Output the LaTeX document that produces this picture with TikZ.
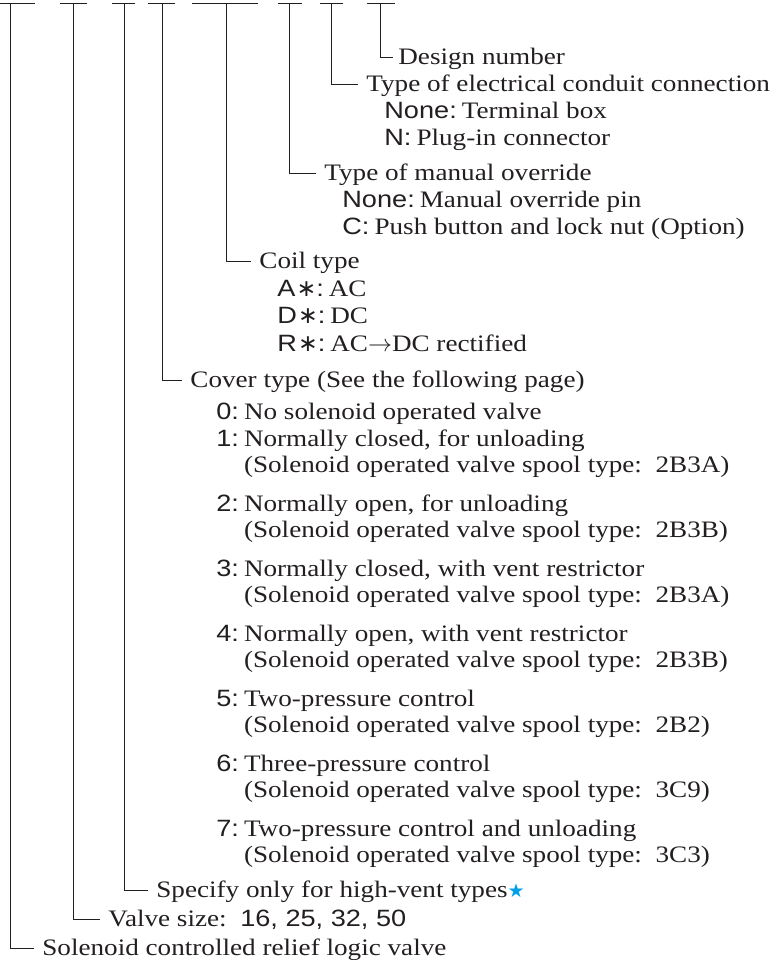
\documentclass[tikz,border=0pt]{standalone}
\usepackage{fontspec}
\setmainfont{Liberation Serif}[FakeStretch=1.15]
\setsansfont{Liberation Sans}[FakeStretch=1.15]
\newfontfamily\symfont{DejaVu Sans}
\usetikzlibrary{positioning}
\definecolor{inkdark}  {RGB}{ 35, 31, 32}
\definecolor{starblue} {RGB}{  0,160,233}
\newcommand{\lab}[1]{\textsf{#1}\kern2.5pt}
\newcommand{\anyv}{{\symfont\kern0.5pt∗}}

\begin{document}
\begin{tikzpicture}[
  x=0.5pt, y=-0.5pt,
  font=\fontsize{11.8}{13}\selectfont,
  text=inkdark,
  rule/.style={draw=inkdark, line width=0.5pt},
  head/.style={anchor=base west, inner xsep=4pt, inner ysep=0pt,
               text height=0.7em, text depth=0pt},
  item/.style={anchor=base west, inner sep=0pt}
]
\useasboundingbox (0,0) rectangle (771,960);

% =========================================================
% TOP ROW: one dash per code position, leader starts on it
% =========================================================
\foreach \xa/\xm/\xb [count=\i] in
    {0/10/35, 60/73/87, 112/124/135, 148/162/175,
     192/226/258, 278/289/302, 320/331/343, 367/380/395}
{
  \draw[rule] (\xa,3) -- (\xb,3);
  \coordinate (top\i) at (\xm,3);
}

% =========================================================
% HEADINGS (leader end = node west)
% =========================================================
\node[head, inner xsep=2.5pt] (design)   at (393,64)  {Design number};
\node[head]                   (conduit)  at (358,91)  {Type of electrical conduit connection};
\node[head]                   (override) at (316,180) {Type of manual override};
\node[head]                   (coil)     at (251,268) {Coil type};
\node[head]                   (cover)    at (182,387) {Cover type (See the following page)};
\node[head]                   (special)  at (148,897) {Specify only for high-vent types{\symfont\fontsize{9.5}{9.5}\selectfont\color{starblue}★}};
\node[head]                   (size)     at (100,926) {Valve size:\ \ \textsf{16, 25, 32, 50}};
\node[head]                   (model)    at (34,955)  {Solenoid controlled relief logic valve};

% leaders: drop from the dash, turn right into the heading
\draw[rule] (top8) |- (design.west);
\draw[rule] (top7) |- (conduit.west);
\draw[rule] (top6) |- (override.west);
\draw[rule] (top5) |- (coil.west);
\draw[rule] (top4) |- (cover.west);
\draw[rule] (top3) |- (special.west);
\draw[rule] (top2) |- (size.west);
\draw[rule] (top1) |- (model.west);

% =========================================================
% OPTIONS under each heading
% =========================================================
\node[item] (conN0) at (384,118) {\lab{None:}Terminal box};
\node[item] (conN)  at (384,145) {\lab{N:}Plug-in connector};

\node[item] (ovrN0) at (342,207) {\lab{None:}Manual override pin};
\node[item] (ovrC)  at (342,234) {\lab{C:}Push button and lock nut (Option)};

\node[item] (coilA) at (277,296) {\lab{A\anyv:}AC};
\node[item] (coilD) at (277,323) {\lab{D\anyv:}DC};
\node[item] (coilR) at (277,351) {\lab{R\anyv:}AC$\rightarrow$DC rectified};

% cover types, second line hangs under the description
\node[item] (cv0)  at (216,419) {\lab{0:}No solenoid operated valve};
\node[item] (cv1)  at (216,446) {\lab{1:}Normally closed, for unloading};
\node[item] (cv1x) at ([yshift=-13pt]cv1.base west) {\hphantom{\lab{1:}}(Solenoid operated valve spool type:\ \ 2B3A)};
\node[item] (cv2)  at (216,511) {\lab{2:}Normally open, for unloading};
\node[item] (cv2x) at ([yshift=-13pt]cv2.base west) {\hphantom{\lab{2:}}(Solenoid operated valve spool type:\ \ 2B3B)};
\node[item] (cv3)  at (216,576) {\lab{3:}Normally closed, with vent restrictor};
\node[item] (cv3x) at ([yshift=-13pt]cv3.base west) {\hphantom{\lab{3:}}(Solenoid operated valve spool type:\ \ 2B3A)};
\node[item] (cv4)  at (216,641) {\lab{4:}Normally open, with vent restrictor};
\node[item] (cv4x) at ([yshift=-13pt]cv4.base west) {\hphantom{\lab{4:}}(Solenoid operated valve spool type:\ \ 2B3B)};
\node[item] (cv5)  at (216,706) {\lab{5:}Two-pressure control};
\node[item] (cv5x) at ([yshift=-13pt]cv5.base west) {\hphantom{\lab{5:}}(Solenoid operated valve spool type:\ \ 2B2)};
\node[item] (cv6)  at (216,771) {\lab{6:}Three-pressure control};
\node[item] (cv6x) at ([yshift=-13pt]cv6.base west) {\hphantom{\lab{6:}}(Solenoid operated valve spool type:\ \ 3C9)};
\node[item] (cv7)  at (216,836) {\lab{7:}Two-pressure control and unloading};
\node[item] (cv7x) at ([yshift=-13pt]cv7.base west) {\hphantom{\lab{7:}}(Solenoid operated valve spool type:\ \ 3C3)};

\end{tikzpicture}
\end{document}
